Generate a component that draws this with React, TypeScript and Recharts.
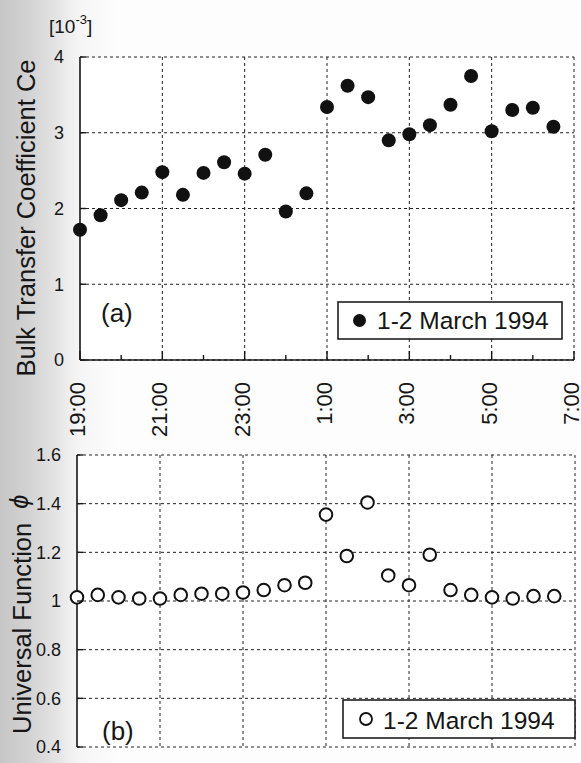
import React from 'react';
import { ScatterChart, Scatter, XAxis, YAxis, CartesianGrid, ReferenceLine } from 'recharts';

// half-hourly samples, 1-2 March 1994
const TIMES = [
  '19:00', '19:30', '20:00', '20:30', '21:00', '21:30', '22:00', '22:30',
  '23:00', '23:30', '0:00', '0:30', '1:00', '1:30', '2:00', '2:30',
  '3:00', '3:30', '4:00', '4:30', '5:00', '5:30', '6:00', '6:30',
];

// bulk transfer coefficient Ce [10^-3]
const CE = [
  1.72, 1.91, 2.11, 2.21, 2.48, 2.18, 2.47, 2.61, 2.46, 2.71, 1.96, 2.2,
  3.34, 3.62, 3.47, 2.9, 2.98, 3.1, 3.37, 3.75, 3.02, 3.3, 3.33, 3.08,
];

// universal function phi
const PHI = [
  1.015, 1.025, 1.015, 1.01, 1.01, 1.025, 1.03, 1.03, 1.035, 1.045, 1.065, 1.075,
  1.355, 1.185, 1.405, 1.105, 1.065, 1.19, 1.045, 1.025, 1.015, 1.01, 1.02, 1.02,
];

const HOUR_TICKS = [19, 20, 21, 22, 23, 24, 25, 26, 27, 28, 29, 30, 31];
const GRID_HOURS = [21, 23, 25, 27, 29, 31];
const CE_TICKS = [0, 1, 2, 3, 4];
const PHI_TICKS = [0.4, 0.6, 0.8, 1, 1.2, 1.4, 1.6];

const FONT = '"Liberation Sans", Arial, sans-serif';
const INK = '#161616';

// times after midnight continue past 24 so the axis stays monotonic
const toHour = (s: string) => {
  const [h, m] = s.split(':').map(Number);
  return (h < 12 ? h + 24 : h) + m / 60;
};

const ceData = TIMES.map((t, i) => ({ t: toHour(t), v: CE[i] }));
const phiData = TIMES.map((t, i) => ({ t: toHour(t), v: PHI[i] }));

const hourLabel = (h: number) => `${h >= 24 ? h - 24 : h}:00`;

// inward tick marks, labels on the odd hours (bottom axis)
const BottomTick = (props: any) => {
  const { x, y, payload } = props;
  const major = payload.value % 2 === 1;
  return (
    <g>
      <line x1={x} x2={x} y1={y} y2={y - (major ? 9 : 5)} stroke={INK} strokeWidth={1.4} />
      {major && (
        <text
          transform={`translate(${x - 3},${y + 22}) rotate(-90)`}
          textAnchor="end"
          dy="0.36em"
          fontSize={22}
          fontFamily={FONT}
          fill={INK}
        >
          {hourLabel(payload.value)}
        </text>
      )}
    </g>
  );
};

// same ticks on a top axis, pointing down, no labels
const TopTick = (props: any) => {
  const { x, y, payload } = props;
  const major = payload.value % 2 === 1;
  return <line x1={x} x2={x} y1={y} y2={y + (major ? 9 : 5)} stroke={INK} strokeWidth={1.4} />;
};

const LeftTick = (props: any) => {
  const { x, y, payload } = props;
  return (
    <g>
      <line x1={x} x2={x + 6} y1={y} y2={y} stroke={INK} strokeWidth={1.4} />
      <text x={x - 16} y={y} dy="0.36em" textAnchor="end" fontSize={18} fontFamily={FONT} fill={INK}>
        {String(Math.round(payload.value * 10) / 10)}
      </text>
    </g>
  );
};

const Dot = (props: any) => <circle cx={props.cx} cy={props.cy} r={7} fill="#111" />;
const Ring = (props: any) => (
  <circle cx={props.cx} cy={props.cy} r={6.3} fill="#fff" stroke="#111" strokeWidth={2} />
);

const gridDash = '3 3';

const App: React.FC = () => {
  return (
    <div
      style={{
        position: 'absolute',
        left: 0,
        top: 0,
        width: 581,
        height: 763,
        overflow: 'hidden',
        background:
          'linear-gradient(to right, #c6c6c6 0px, #d3d3d3 30px, #e3e3e3 55px, #f5f5f5 78px, #fdfdfd 120px)',
      }}
    >
      <div style={{ position: 'absolute', left: 0, top: 0 }}>
        <ScatterChart width={581} height={440} margin={{ top: 57, right: 7, bottom: 0, left: 0 }}>
          <CartesianGrid vertical={false} stroke="#222" strokeDasharray={gridDash} fill="#fff" />
          <XAxis
            dataKey="t"
            type="number"
            domain={[19, 31]}
            ticks={HOUR_TICKS}
            interval={0}
            height={80}
            tickSize={0}
            tickMargin={0}
            tickLine={false}
            tick={<BottomTick />}
            axisLine={{ stroke: INK, strokeWidth: 1.6 }}
          />
          <YAxis
            dataKey="v"
            type="number"
            domain={[0, 4]}
            ticks={CE_TICKS}
            interval={0}
            width={80}
            tickSize={0}
            tickMargin={0}
            tickLine={false}
            tick={<LeftTick />}
            axisLine={{ stroke: INK, strokeWidth: 1.6 }}
          />
          {GRID_HOURS.map((h) => (
            <ReferenceLine key={h} x={h} stroke="#222" strokeDasharray={gridDash} />
          ))}
          <Scatter data={ceData} shape={<Dot />} isAnimationActive={false} />
        </ScatterChart>
      </div>

      <div style={{ position: 'absolute', left: 0, top: 440 }}>
        <ScatterChart width={581} height={323} margin={{ top: 15, right: 6, bottom: 16, left: 0 }}>
          <CartesianGrid vertical={false} stroke="#222" strokeDasharray={gridDash} fill="#fff" />
          <XAxis
            dataKey="t"
            type="number"
            orientation="top"
            domain={[19, 31]}
            ticks={HOUR_TICKS}
            interval={0}
            height={0}
            tickSize={0}
            tickMargin={0}
            tickLine={false}
            tick={<TopTick />}
            axisLine={{ stroke: INK, strokeWidth: 1.6 }}
          />
          <YAxis
            dataKey="v"
            type="number"
            domain={[0.4, 1.6]}
            ticks={PHI_TICKS}
            interval={0}
            width={77}
            tickSize={0}
            tickMargin={0}
            tickLine={false}
            tick={<LeftTick />}
            axisLine={{ stroke: INK, strokeWidth: 1.6 }}
          />
          {GRID_HOURS.map((h) => (
            <ReferenceLine key={h} x={h} stroke="#222" strokeDasharray={gridDash} />
          ))}
          <Scatter data={phiData} shape={<Ring />} isAnimationActive={false} />
        </ScatterChart>
      </div>

      {/* titles, panel tags and legends */}
      <svg
        width={581}
        height={763}
        style={{ position: 'absolute', left: 0, top: 0, pointerEvents: 'none' }}
        fontFamily={FONT}
        fill={INK}
      >
        <text x={49} y={33} fontSize={19}>
          [10
          <tspan dy={-9} fontSize={13}>
            -3
          </tspan>
          <tspan dy={9} fontSize={19}>
            ]
          </tspan>
        </text>
        <text transform="translate(35,218) rotate(-90)" textAnchor="middle" fontSize={25.5}>
          Bulk Transfer Coefficient Ce
        </text>
        <text transform="translate(31,734) rotate(-90)" fontSize={25.5}>
          Universal Function
          <tspan dx={14} dy={-3} fontStyle="italic">
            ϕ
          </tspan>
        </text>

        <text x={101} y={322} fontSize={26}>
          (a)
        </text>
        <text x={102} y={740} fontSize={26}>
          (b)
        </text>

        <rect x={338} y={302} width={224} height={37} fill="#fff" stroke="#111" strokeWidth={1.5} />
        <circle cx={359.5} cy={320.5} r={6.5} fill="#111" />
        <text x={377} y={329} fontSize={24.5}>
          1-2 March 1994
        </text>

        <rect x={343} y={700} width={232} height={38} fill="#fff" stroke="#111" strokeWidth={1.5} />
        <circle cx={366} cy={719} r={6} fill="#fff" stroke="#111" strokeWidth={1.8} />
        <text x={383} y={729} fontSize={24.5}>
          1-2 March 1994
        </text>
      </svg>
    </div>
  );
};

export default App;
